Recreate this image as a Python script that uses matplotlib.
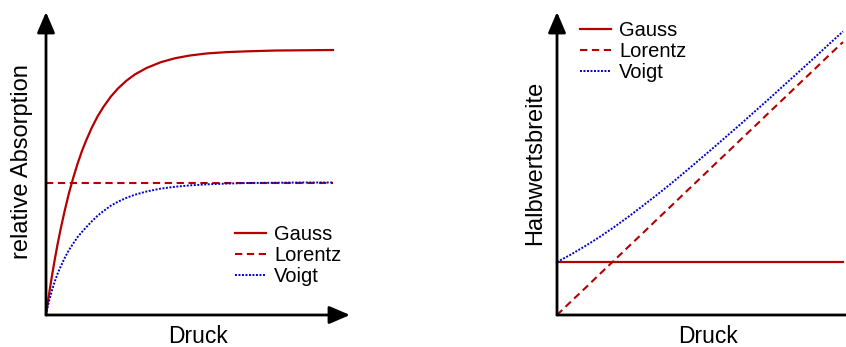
import matplotlib.pyplot as plt

plt.rcParams['font.family'] = ['Liberation Sans', 'DejaVu Sans']

RED = '#b40000'
BLUE = '#0000c8'

# left panel: relative absorption vs. pressure
druck_l = [0.0, 0.005, 0.01, 0.02, 0.03, 0.04, 0.05, 0.065, 0.08, 0.095, 0.11, 0.125,
           0.14, 0.16, 0.18, 0.2, 0.225, 0.25, 0.28, 0.31, 0.35, 0.4, 0.45, 0.5, 0.56,
           0.63, 0.7, 0.8, 0.9, 1.0]
gauss_l = [0.0, 0.038, 0.074, 0.143, 0.206, 0.265, 0.319, 0.393, 0.46, 0.518, 0.571,
           0.618, 0.659, 0.708, 0.75, 0.785, 0.823, 0.854, 0.884, 0.908, 0.932, 0.954,
           0.969, 0.979, 0.987, 0.992, 0.995, 0.998, 0.999, 1.0]
lorentz_l = [0.5] * len(druck_l)
voigt_l = [0.0, 0.027, 0.05, 0.09, 0.125, 0.155, 0.18, 0.215, 0.245, 0.27, 0.294, 0.313,
           0.331, 0.354, 0.375, 0.392, 0.412, 0.427, 0.442, 0.454, 0.466, 0.477, 0.484,
           0.489, 0.493, 0.496, 0.498, 0.499, 0.5, 0.5]

# right panel: half width vs. pressure
druck_r = [0.0, 0.05, 0.1, 0.15, 0.2, 0.25, 0.3, 0.35, 0.4, 0.45, 0.5, 0.55, 0.6,
           0.65, 0.7, 0.75, 0.8, 0.85, 0.9, 0.95, 1.0]
gauss_r = [0.2] * len(druck_r)
lorentz_r = [0.0, 0.052, 0.103, 0.155, 0.206, 0.258, 0.309, 0.361, 0.412, 0.464,
             0.515, 0.567, 0.618, 0.67, 0.721, 0.773, 0.824, 0.876, 0.927, 0.979, 1.03]
voigt_r = [0.2, 0.229, 0.261, 0.295, 0.332, 0.371, 0.412, 0.454, 0.497, 0.542,
           0.588, 0.634, 0.681, 0.728, 0.776, 0.824, 0.873, 0.922, 0.971, 1.021, 1.07]

labels = ['Gauss', 'Lorentz', 'Voigt']

W, H = 846, 347
fig = plt.figure(figsize=(W / 100, H / 100), dpi=100)


def make_axes(x0, x1, xe, y0, y1, yt):
    # x0/y0: origin pixel, x1/y1: pixel of data value 1, xe/yt: arrow tips
    ax = fig.add_axes([x0 / W, (H - y0) / H, (xe - x0) / W, (y0 - yt) / H])
    ax.set_xlim(0, (xe - x0) / (x1 - x0))
    ax.set_ylim(0, (y0 - yt) / (y0 - y1))
    for s in ax.spines.values():
        s.set_visible(False)
    ax.set_xticks([])
    ax.set_yticks([])
    arrow = dict(arrowstyle='-|>,head_length=0.7,head_width=0.3', lw=2, color='black',
                 shrinkA=0, shrinkB=0, mutation_scale=18)
    ax.annotate('', xy=(1, 0), xytext=(0, 0), xycoords='axes fraction', arrowprops=arrow,
                annotation_clip=False)
    ax.annotate('', xy=(0, 1), xytext=(0, 0), xycoords='axes fraction', arrowprops=arrow,
                annotation_clip=False)
    return ax


def px(x, y):
    return x / W, 1 - y / H


def curves(ax, x, g, l, v):
    ax.plot(x, g, color=RED, lw=1.6, label=labels[0], clip_on=False)
    ax.plot(x, l, color=RED, lw=1.5, ls=(0, (3.5, 2.2)), label=labels[1], clip_on=False)
    ax.plot(x, v, color=BLUE, lw=1.4, ls=(0, (1, 0.8)), label=labels[2], clip_on=False)


def legend(ax, x, y):
    ax.legend(loc='upper left', bbox_to_anchor=px(x, y), bbox_transform=fig.transFigure,
              frameon=False, fontsize=14.5, handlelength=1.55, handletextpad=0.4,
              labelspacing=0.1, borderpad=0, borderaxespad=0)


ax1 = make_axes(46, 333, 350, 315, 50, 12)
curves(ax1, druck_l, gauss_l, lorentz_l, voigt_l)
legend(ax1, 235, 225)
fig.text(*px(198, 343), 'Druck', fontsize=16.5, ha='center', va='baseline')
fig.text(*px(22, 162), 'relative Absorption', fontsize=17, rotation=90,
         ha='center', va='center')

ax2 = make_axes(557, 843, 872, 315, 50, 12)
curves(ax2, druck_r, gauss_r, lorentz_r, voigt_r)
legend(ax2, 580, 21)
fig.text(*px(708, 343), 'Druck', fontsize=16.5, ha='center', va='baseline')
fig.text(*px(535, 163), 'Halbwertsbreite', fontsize=17, rotation=90,
         ha='center', va='center')

fig.savefig('out.png', dpi=100)
